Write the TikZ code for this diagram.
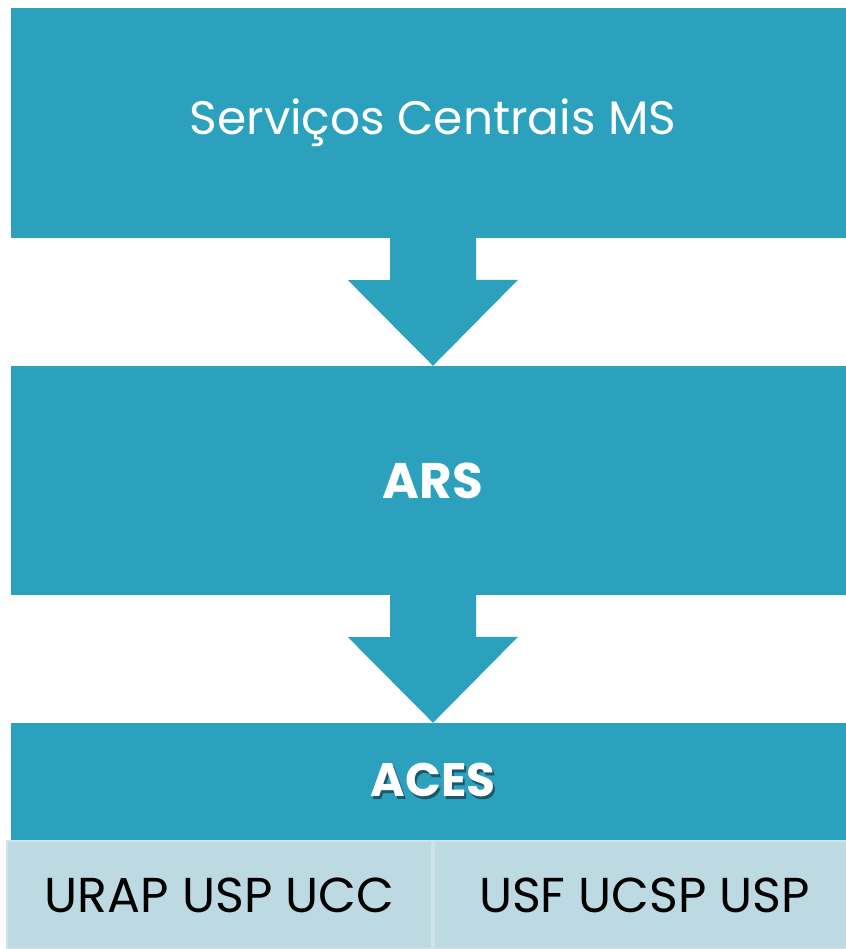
\documentclass[tikz,border=0pt]{standalone}
\usepackage{fontspec}
\setmainfont{Poppins}
\usepackage{tikz}
\usetikzlibrary{calc}
\definecolor{msblue}{RGB}{44,161,190}
\definecolor{mslight}{RGB}{189,217,226}
\definecolor{msedge}{RGB}{207,228,234}
\definecolor{msshadow}{RGB}{28,88,108}
\tikzset{
  bluebox/.style={rectangle,fill=msblue,inner sep=0pt,text=white,minimum width=844pt},
  unitbox/.style={rectangle,fill=mslight,draw=msedge,line width=1.5pt,inner sep=0pt,text=black,
    minimum height=108pt,font=\fontsize{49}{49}\selectfont},
  flow/.style={fill=msblue}
}
\def\shadowtext#1{\rlap{\color{msshadow}\hspace{2pt}\raisebox{-2.5pt}{#1}}#1}
\def\drawflow#1#2{\fill[flow] ($(#1.south)+(-43,0)$) -- ++(0,-42) -- ++(-42,0)
  -- ($(#2.north)$) -- ++(85,86) -- ++(-42,0) -- ++(0,42) -- cycle;}

\begin{document}
\begin{tikzpicture}[x=1pt,y=1pt]
\useasboundingbox (0,0) rectangle (845,949);
\node[bluebox,minimum height=230pt,font=\fontsize{47}{47}\selectfont]
  (ms) at (433,826) {Serviços Centrais MS};
\node[bluebox,minimum height=229pt,font=\bfseries\fontsize{50}{50}\selectfont]
  (ars) at (433,468.5) {ARS};
\node[bluebox,minimum height=117pt,font=\bfseries\fontsize{47}{47}\selectfont]
  (aces) at (433,167.5) {\shadowtext{ACES}};
\node[unitbox,minimum width=425pt] (left) at (219.5,54) {URAP USP UCC};
\node[unitbox,minimum width=421pt] (right) at (644.5,54) {USF UCSP USP};
\drawflow{ms}{ars}
\drawflow{ars}{aces}
\end{tikzpicture}
\end{document}
